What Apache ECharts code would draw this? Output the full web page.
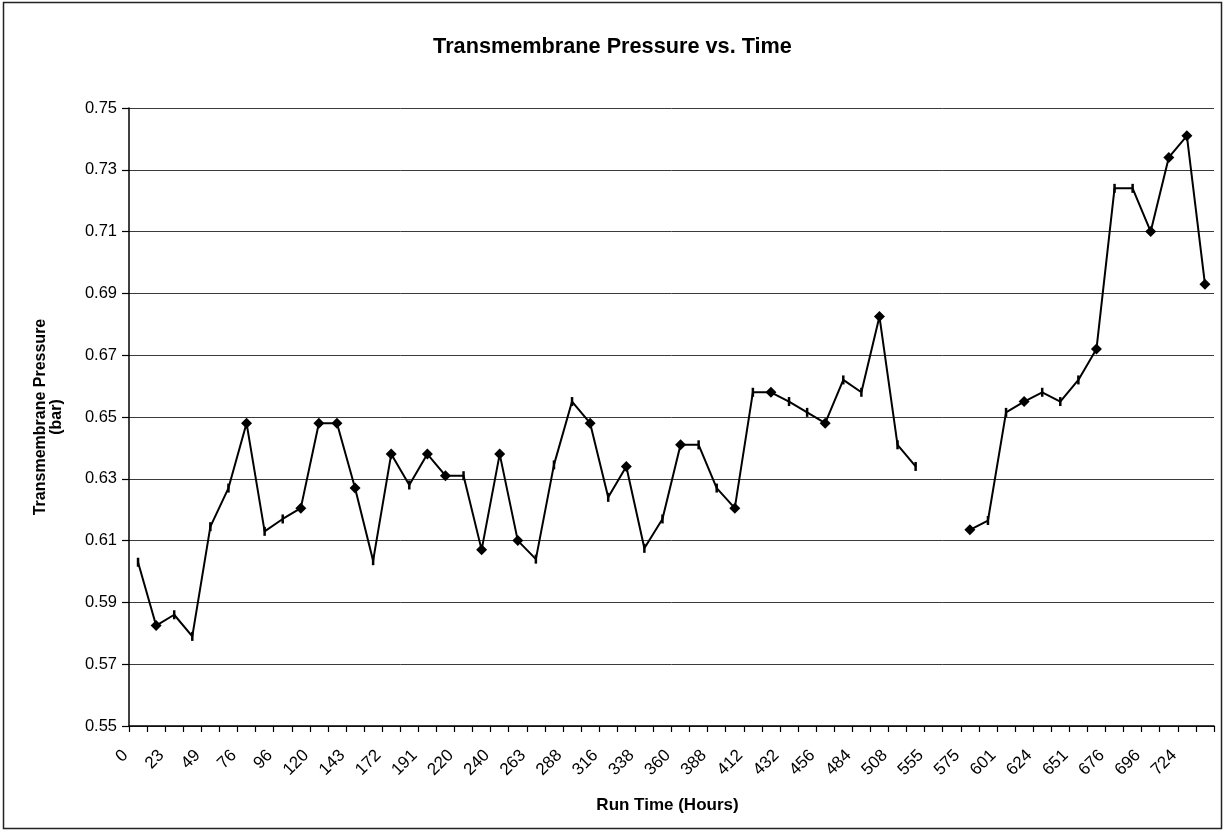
<!DOCTYPE html>
<html>
<head>
<meta charset="utf-8">
<script src="https://cdn.jsdelivr.net/npm/echarts@6/dist/echarts.min.js"></script>
<style>
    html, body { margin: 0; padding: 0; background: #fff; }
    #chart { width: 1225px; height: 832px; }
</style>
</head>
<body>
<div id="chart"></div>
<script>
    // run time (hours) - only every second category carries a label
    var hours = [
        '0', '', '23', '', '49', '', '76', '', '96', '',
        '120', '', '143', '', '172', '', '191', '', '220', '',
        '240', '', '263', '', '288', '', '316', '', '338', '',
        '360', '', '388', '', '412', '', '432', '', '456', '',
        '484', '', '508', '', '555', '', '575', '', '601', '',
        '624', '', '651', '', '676', '', '696', '', '724', ''
    ];

    // transmembrane pressure (bar)
    var tmp = [
        0.603, 0.5825, 0.586, 0.579, 0.6145, 0.627, 0.648, 0.613, 0.617, 0.6205,
        0.648, 0.648, 0.627, 0.6035, 0.638, 0.628, 0.638, 0.631, 0.631, 0.607,
        0.638, 0.610, 0.604, 0.6345, 0.655, 0.648, 0.624, 0.634, 0.6075, 0.617,
        0.641, 0.641, 0.627, 0.6205, 0.658, 0.658, 0.655, 0.6515, 0.648, 0.662,
        0.658, 0.6825, 0.641, 0.634, null, null, 0.6135, 0.6165, 0.6515, 0.655,
        0.658, 0.655, 0.662, 0.672, 0.724, 0.724, 0.710, 0.734, 0.741, 0.693
    ];

    // points drawn with a diamond, the rest get a short vertical dash
    var diamondPoints = [1, 6, 9, 10, 11, 12, 14, 16, 17, 19, 20, 21, 25, 27, 30,
        33, 35, 38, 41, 46, 49, 53, 56, 57, 58, 59];

    var yTicks = { min: 0.55, max: 0.75, step: 0.02 };

    var seriesData = [];
    for (var i = 0; i < tmp.length; i++) {
        if (tmp[i] === null) {
            seriesData.push(null);
        } else if (diamondPoints.indexOf(i) >= 0) {
            seriesData.push({ value: tmp[i], symbol: 'diamond', symbolSize: 11 });
        } else {
            seriesData.push({ value: tmp[i], symbol: 'rect', symbolSize: [2.5, 9] });
        }
    }

    var font = 'Liberation Sans, Arial, sans-serif';

    var option = {
        animation: false,
        backgroundColor: '#fff',
        title: {
            text: 'Transmembrane Pressure vs. Time',
            left: 'center',
            top: 31,
            textStyle: { fontFamily: font, fontSize: 21.7, fontWeight: 'bold', color: '#000' }
        },
        grid: {
            left: 129,
            right: 11,
            top: 108,
            bottom: 106
        },
        xAxis: {
            type: 'category',
            data: hours,
            boundaryGap: true,
            name: 'Run Time (Hours)',
            nameLocation: 'middle',
            nameGap: 71,
            nameTextStyle: { fontFamily: font, fontSize: 17, fontWeight: 'bold', color: '#000', padding: [0, 8, 0, 0] },
            axisLine: { lineStyle: { color: '#000', width: 1.5 } },
            axisTick: { show: true, interval: 0, length: 6, lineStyle: { color: '#000', width: 1.2 } },
            axisLabel: {
                interval: 0,
                rotate: 45,
                margin: 14,
                padding: [0, 18, 0, 0],
                fontFamily: font,
                fontSize: 17,
                color: '#000'
            },
            splitLine: { show: false }
        },
        yAxis: {
            type: 'value',
            min: yTicks.min,
            max: yTicks.max,
            interval: yTicks.step,
            name: 'Transmembrane Pressure\n(bar)',
            nameLocation: 'middle',
            nameGap: 64,
            nameTextStyle: { fontFamily: font, fontSize: 16, fontWeight: 'bold', color: '#000', lineHeight: 16, align: 'center' },
            axisLine: { show: true, lineStyle: { color: '#000', width: 1.5 } },
            axisTick: { show: true, inside: false, length: 7, lineStyle: { color: '#000', width: 1.2 } },
            axisLabel: {
                margin: 12,
                fontFamily: font,
                fontSize: 16.5,
                color: '#000',
                formatter: function (v) { return v.toFixed(2); }
            },
            splitLine: { show: true, lineStyle: { color: '#3a3a3a', width: 1 } }
        },
        series: [
            {
                name: 'TMP',
                type: 'line',
                data: seriesData,
                connectNulls: false,
                showAllSymbol: true,
                lineStyle: { color: '#000', width: 2 },
                itemStyle: { color: '#000', borderWidth: 0 }
            }
        ],
        graphic: [
            {
                type: 'rect',
                shape: { x: 3.5, y: 2.5, width: 1218, height: 826 },
                style: { fill: 'none', stroke: '#222', lineWidth: 1.5 },
                silent: true
            }
        ]
    };

    var chart = echarts.init(document.getElementById('chart'));
    chart.setOption(option);

    window.addEventListener('resize', function () {
        chart.resize();
    });
</script>
</body>
</html>
